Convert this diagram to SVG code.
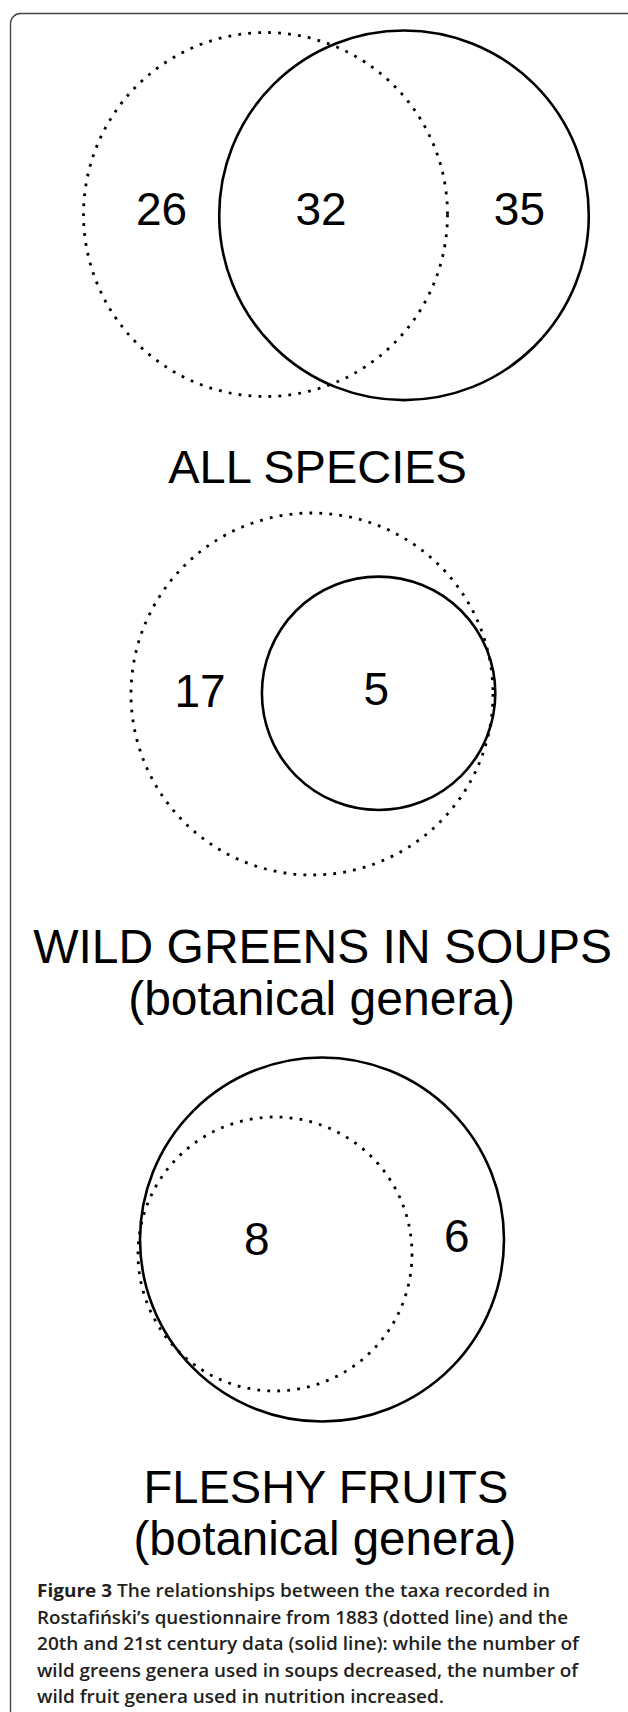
<svg xmlns="http://www.w3.org/2000/svg" width="628" height="1712" viewBox="0 0 628 1712">
<style>
.dot{fill:none;stroke:#000;stroke-width:2.8;stroke-dasharray:2.8 7.2}
.sol{fill:none;stroke:#000;stroke-width:2.6}
.num{font-family:"Liberation Sans",Arial,sans-serif;font-size:46px;fill:#000;text-anchor:middle}
.ttl{font-family:"Liberation Sans",Arial,sans-serif;font-size:47px;fill:#000;text-anchor:middle}
.cap{font-family:"Open Sans","Noto Sans",sans-serif;font-size:18.5px;font-weight:600;fill:#231f20}
</style>
<rect width="628" height="1712" fill="#fff"/>
<rect x="10.5" y="13.5" width="640" height="1720" rx="10" fill="none" stroke="#444" stroke-width="1.4"/>
<g id="all-species">
<circle class="dot" cx="265.5" cy="214.5" r="182"/>
<circle class="sol" cx="404" cy="215.3" r="184.8"/>
<text class="num" x="161.5" y="225">26</text>
<text class="num" x="321" y="225">32</text>
<text class="num" x="519.4" y="225">35</text>
<text class="ttl" x="317.6" y="483.3">ALL SPECIES</text>
</g>
<g id="wild-greens">
<circle class="dot" cx="312" cy="694" r="181"/>
<circle class="sol" cx="378.6" cy="693.3" r="116.7"/>
<text class="num" x="200" y="706.7">17</text>
<text class="num" x="376.4" y="705">5</text>
<text class="ttl" x="322.6" y="963.3" style="font-size:48px">WILD GREENS IN SOUPS</text>
<text class="ttl" x="321.6" y="1015" style="font-size:48px">(botanical genera)</text>
</g>
<g id="fleshy-fruits">
<circle class="sol" cx="322" cy="1239.5" r="182"/>
<circle class="dot" cx="275" cy="1254" r="137"/>
<text class="num" x="256.8" y="1255">8</text>
<text class="num" x="456.8" y="1251.7">6</text>
<text class="ttl" x="326" y="1503.3">FLESHY FRUITS</text>
<text class="ttl" x="325" y="1555" style="font-size:47.5px">(botanical genera)</text>
</g>
<g id="connectors"></g>
<g id="caption">
<text class="cap" x="37" y="1597" textLength="513" lengthAdjust="spacingAndGlyphs"><tspan font-weight="bold">Figure 3</tspan> The relationships between the taxa recorded in</text>
<text class="cap" x="37" y="1623.5" textLength="531" lengthAdjust="spacingAndGlyphs">Rostafiński’s questionnaire from 1883 (dotted line) and the</text>
<text class="cap" x="37" y="1650" textLength="542" lengthAdjust="spacingAndGlyphs">20th and 21st century data (solid line): while the number of</text>
<text class="cap" x="37" y="1676.5" textLength="541" lengthAdjust="spacingAndGlyphs">wild greens genera used in soups decreased, the number of</text>
<text class="cap" x="37" y="1703" textLength="407" lengthAdjust="spacingAndGlyphs">wild fruit genera used in nutrition increased.</text>
</g>
</svg>
